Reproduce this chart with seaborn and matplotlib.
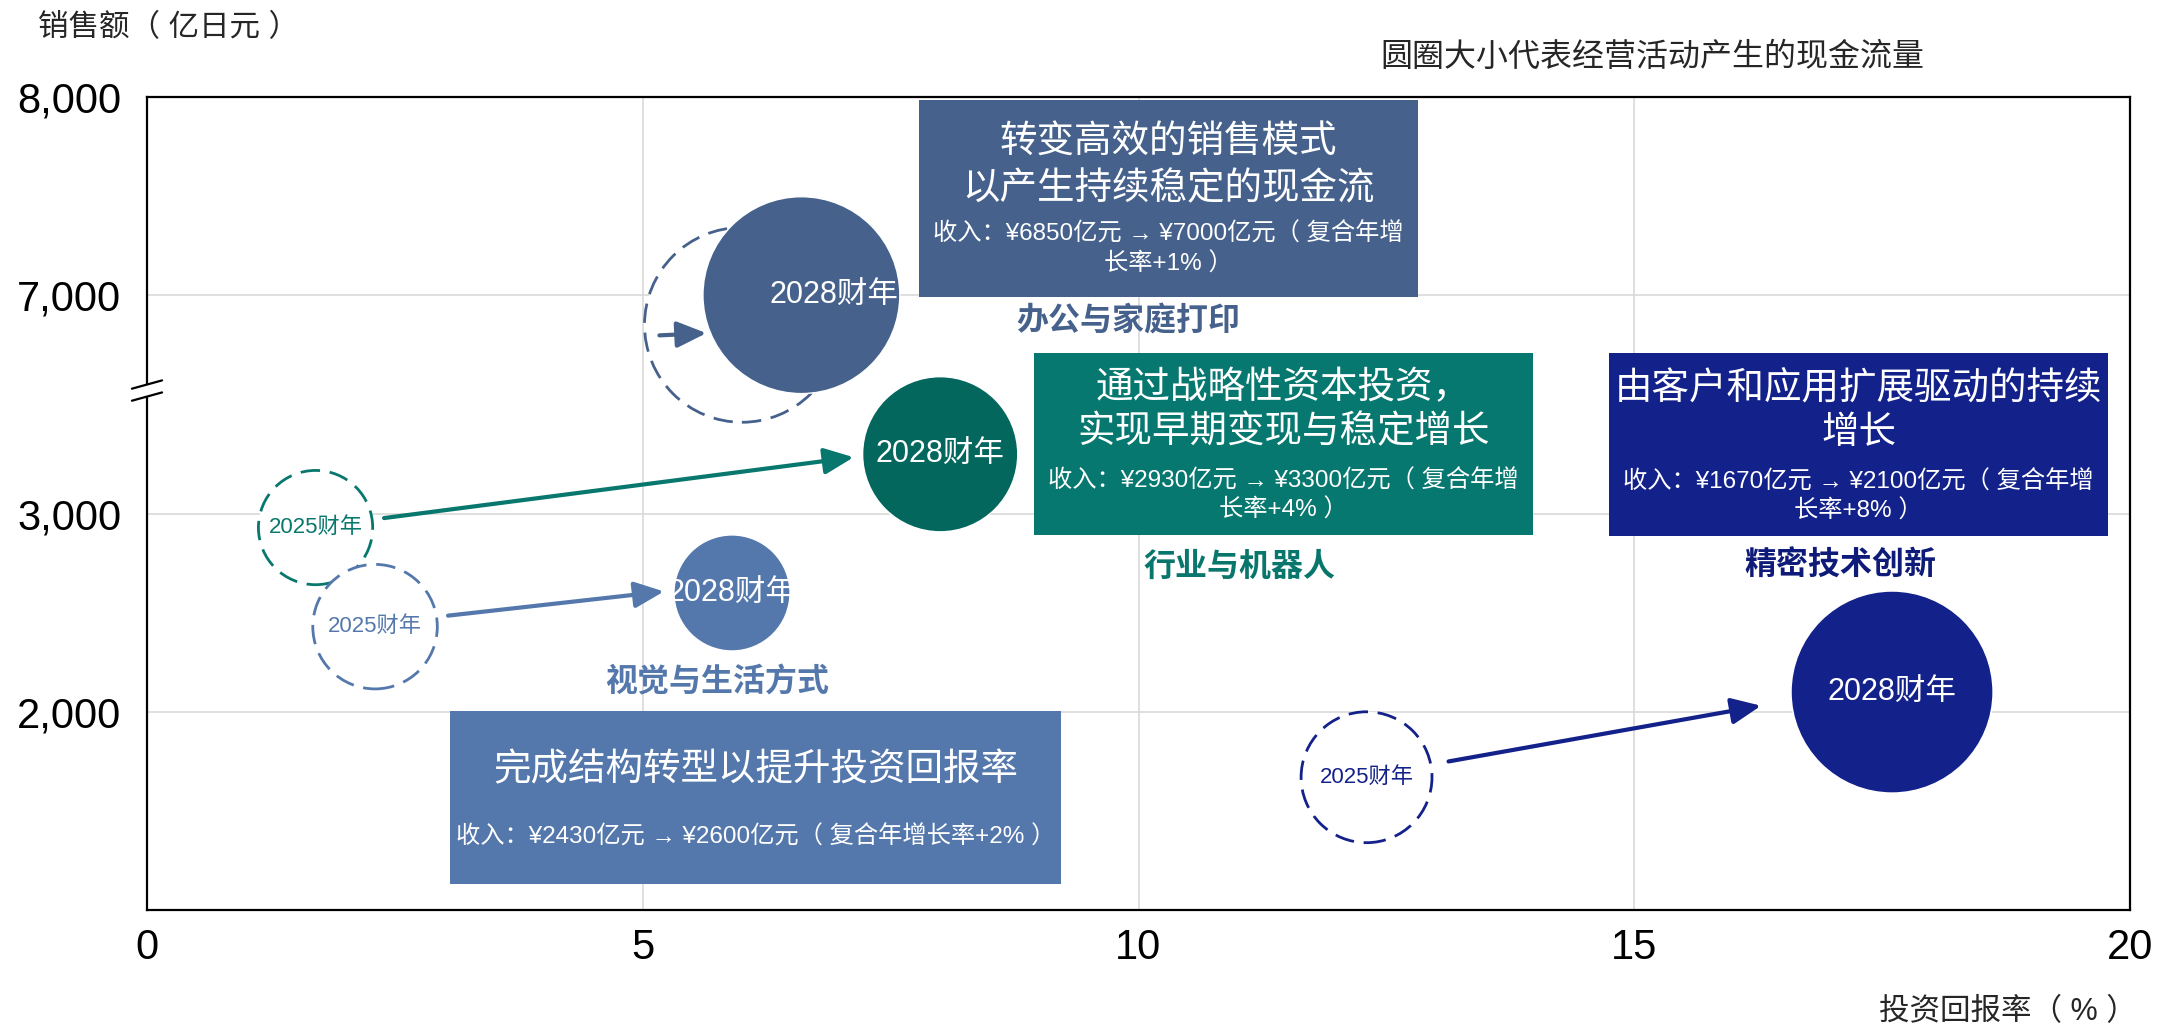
import numpy as np
import pandas as pd
import matplotlib
matplotlib.use('Agg')
import matplotlib.pyplot as plt
import matplotlib.transforms as mtrans
from matplotlib.patches import Rectangle
from matplotlib.lines import Line2D
import seaborn as sns

# data
segments = ['办公与家庭打印', '行业与机器人', '视觉与生活方式', '精密技术创新']
roic_2025 = [6.0, 1.7, 2.3, 12.3]
roic_2028 = [6.6, 8.0, 5.9, 17.6]
sales_2025 = [6850, 2930, 2430, 1670]
sales_2028 = [7000, 3300, 2600, 2100]
cash_2025 = [930, 320, 380, 420]      # bubble size (operating cash flow, estimated)
cash_2028 = [950, 590, 330, 1000]
cagr = [1, 4, 2, 8]
headlines = ['转变高效的销售模式\n以产生持续稳定的现金流',
             '通过战略性资本投资，\n实现早期变现与稳定增长',
             '完成结构转型以提升投资回报率',
             '由客户和应用扩展驱动的持续\n增长']
x_ticks = [0, 5, 10, 15, 20]
y_ticks = [2000, 3000, 7000, 8000]
y_break = (3620, 6520)

sns.set_theme(style='white')
plt.rcParams['font.family'] = ['Liberation Sans', 'Noto Sans CJK SC']
plt.rcParams['axes.unicode_minus'] = False

box_col = {'办公与家庭打印': '#46628C', '行业与机器人': '#06786F',
           '视觉与生活方式': '#5578AC', '精密技术创新': '#13218A'}
circle_col = {'办公与家庭打印': '#46628C', '行业与机器人': '#03675E',
              '视觉与生活方式': '#5578AC', '精密技术创新': '#13218A'}
label_col = {'办公与家庭打印': '#46628C', '行业与机器人': '#08766C',
             '视觉与生活方式': '#5578AC', '精密技术创新': '#0F1B78'}
line_col = {'办公与家庭打印': '#46628C', '行业与机器人': '#08776D',
            '视觉与生活方式': '#5578AC', '精密技术创新': '#13218A'}

# positions in pixels of the 2159x1032 canvas
layout = {
    '办公与家庭打印': dict(box=(919, 100, 1418, 297), title_y=[142, 189], sub_y=[234, 264],
                    label=(1128.5, 322), wrap=26, head=(-95, 38), tail=(-82.5, 10.5), dx=33, tag25=False),
    '行业与机器人': dict(box=(1034, 353, 1533, 535), title_y=[388, 432], sub_y=[481, 510],
                   label=(1239, 568), wrap=26, head=(-86.5, 3), tail=(68.5, -9.5), dx=0, tag25=True),
    '视觉与生活方式': dict(box=(450, 711, 1061, 884), title_y=[770], sub_y=[837],
                    label=(717.5, 683), wrap=None, head=(-68, -1.5), tail=(73, -11), dx=0, tag25=True),
    '精密技术创新': dict(box=(1609, 353, 2108, 536), title_y=[389, 433], sub_y=[482, 511],
                   label=(1840, 566), wrap=26, head=(-131, 13.7), tail=(82, -15.8), dx=0, tag25=True),
}
AX_L, AX_R, AX_T, AX_B = 147, 2130, 97, 910


def afx(px):
    return (px - AX_L) / (AX_R - AX_L)


def afy(py):
    return (AX_B - py) / (AX_B - AX_T)


# broken y axis as a function scale
B1, B2 = y_break
eps = 0.001


def fwd(y):
    y = np.asarray(y, float)
    return np.where(y <= B1, y, np.where(y >= B2, y - (B2 - B1) * (1 - eps), B1 + (y - B1) * eps))


def inv(z):
    z = np.asarray(z, float)
    top = B1 + (B2 - B1) * eps
    return np.where(z <= B1, z, np.where(z >= top, z + (B2 - B1) * (1 - eps), B1 + (z - B1) / eps))


df25 = pd.DataFrame({'segment': segments, 'roic': roic_2025, 'sales': sales_2025, 'cash': cash_2025})
df28 = pd.DataFrame({'segment': segments, 'roic': roic_2028, 'sales': sales_2028, 'cash': cash_2028})

fig = plt.figure(figsize=(21.59, 10.32), dpi=100)
ax = fig.add_axes([AX_L / 2159, 1 - AX_B / 1032, (AX_R - AX_L) / 2159, (AX_B - AX_T) / 1032])
ax.set_yscale('function', functions=(fwd, inv))

sns.scatterplot(data=df25, x='roic', y='sales', size='cash', sizes=(0, 21150), size_norm=(0, 1000),
                color='white', edgecolor=[line_col[s] for s in segments], linewidth=2,
                linestyle=(0, (7, 3.5)), legend=False, zorder=2, ax=ax)
sns.scatterplot(data=df28, x='roic', y='sales', hue='segment', palette=circle_col,
                size='cash', sizes=(0, 21150), size_norm=(0, 1000),
                edgecolor='white', linewidth=1, legend=False, zorder=3, ax=ax)

ax.set_xlim(0, 20)
ax.set_ylim(1000, 8000)
ax.set_xticks(x_ticks)
ax.set_xticklabels([str(v) for v in x_ticks])
ax.set_yticks(y_ticks)
ax.set_yticklabels([f'{v:,}' for v in y_ticks])
ax.minorticks_off()
ax.tick_params(axis='both', length=0, labelsize=30, colors='black')
ax.tick_params(axis='y', pad=18.5)
ax.tick_params(axis='x', pad=13)
ax.set_xlabel('')
ax.set_ylabel('')
ax.grid(True, color='#D9D9D9', linewidth=1.2)
ax.set_axisbelow(True)
for sp in ax.spines.values():
    sp.set_color('black')
    sp.set_linewidth(1.6)


def offset_tr(dx, dy):
    return ax.transData + mtrans.ScaledTranslation(dx / 100, -dy / 100, fig.dpi_scale_trans)


for i, seg in enumerate(segments):
    L = layout[seg]
    # year labels inside the bubbles
    if L['tag25']:
        ax.text(roic_2025[i], sales_2025[i], '2025财年', color=line_col[seg], fontsize=16,
                ha='center', va='center', zorder=2.5)
    ax.text(roic_2028[i], sales_2028[i], '2028财年', color='white', fontsize=22,
            ha='center', va='center', zorder=5, transform=offset_tr(L['dx'], 0))
    # arrow 2025 -> 2028
    ax.annotate('', xy=(roic_2028[i], sales_2028[i]), xycoords=offset_tr(*L['head']),
                xytext=(roic_2025[i], sales_2025[i]), textcoords=offset_tr(*L['tail']),
                arrowprops=dict(arrowstyle='-|>,head_length=0.9,head_width=0.4', color=line_col[seg],
                                lw=3, shrinkA=0, shrinkB=0, mutation_scale=20), zorder=4)
    # text box
    l, t, r, b = L['box']
    ax.add_patch(Rectangle((afx(l), afy(b)), afx(r) - afx(l), afy(t) - afy(b), transform=ax.transAxes,
                           facecolor=box_col[seg], edgecolor='none', zorder=6, clip_on=False))
    cx = afx((l + r) / 2)
    for line, y in zip(headlines[i].split('\n'), L['title_y']):
        ax.text(cx, afy(y), line, transform=ax.transAxes, color='white', fontsize=27,
                ha='center', va='center', zorder=7)
    sub = f'收入：¥{sales_2025[i]}亿元 → ¥{sales_2028[i]}亿元（ 复合年增长率+{cagr[i]}% ）'
    sub_lines = [sub] if L['wrap'] is None else [sub[:L['wrap']], sub[L['wrap']:]]
    for line, y in zip(sub_lines, L['sub_y']):
        ax.text(cx, afy(y), line, transform=ax.transAxes, color='white', fontsize=17.5,
                ha='center', va='center', zorder=7)
    # segment name
    ax.text(afx(L['label'][0]), afy(L['label'][1]), seg, transform=ax.transAxes, color=label_col[seg],
            fontsize=23, fontweight='bold', ha='center', va='center', zorder=7)

# axis break marks
yb = ax.transAxes.inverted().transform(ax.transData.transform((0, (B1 + B2) / 2)))[1]
ax.add_patch(Rectangle((-0.003, yb - 0.0075), 0.006, 0.015, transform=ax.transAxes,
                       facecolor='white', edgecolor='none', clip_on=False, zorder=10))
for sgn in (1, -1):
    yc = yb + sgn * 0.0074
    ax.add_line(Line2D([-0.0076, 0.0076], [yc - 0.0051, yc + 0.0051], transform=ax.transAxes,
                       color='black', lw=1.6, clip_on=False, zorder=11))

fig.text(38 / 2159, 1 - 28 / 1032, '销售额（ 亿日元 ）', fontsize=22, ha='left', va='center')
fig.text(1652 / 2159, 1 - 58 / 1032, '圆圈大小代表经营活动产生的现金流量', fontsize=23, ha='center', va='center')
fig.text(2137 / 2159, 1 - 1012 / 1032, '投资回报率（ % ）', fontsize=22, ha='right', va='center')

fig.savefig('out.png', dpi=100)
